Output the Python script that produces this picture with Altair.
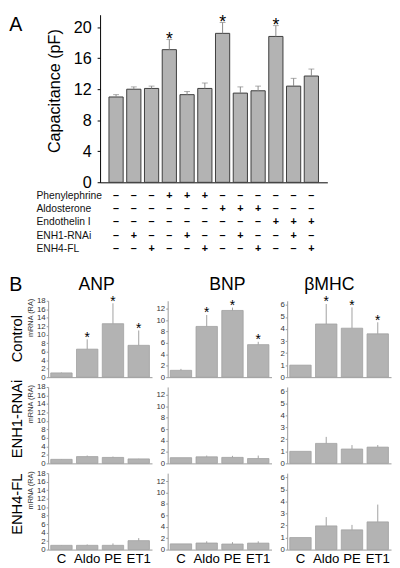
import altair as alt
import pandas as pd

# ---------------- Panel A data ----------------
conditions = ["1", "2", "3", "4", "5", "6", "7", "8", "9", "10", "11", "12"]
capacitance = [11.0, 12.0, 12.1, 17.1, 11.3, 12.1, 19.2, 11.5, 11.8, 18.8, 12.4, 13.7]
capacitance_err = [11.3, 12.3, 12.4, 18.4, 11.7, 12.8, 20.6, 12.3, 12.4, 20.2, 13.4, 14.6]
capacitance_sig = [0, 0, 0, 1, 0, 0, 1, 0, 0, 1, 0, 0]
capacitance_ticks = [0, 4, 8, 12, 16, 20]

treatment_names = ["Phenylephrine", "Aldosterone", "Endothelin I", "ENH1-RNAi", "ENH4-FL"]
phenylephrine = ["-", "-", "-", "+", "+", "+", "-", "-", "-", "-", "-", "-"]
aldosterone = ["-", "-", "-", "-", "-", "-", "+", "+", "+", "-", "-", "-"]
endothelin = ["-", "-", "-", "-", "-", "-", "-", "-", "-", "+", "+", "+"]
enh1_rnai = ["-", "+", "-", "-", "+", "-", "-", "+", "-", "-", "+", "-"]
enh4_fl = ["-", "-", "+", "-", "-", "+", "-", "-", "+", "-", "-", "+"]

# ---------------- Panel B data ----------------
treatments = ["C", "Aldo", "PE", "ET1"]
genes = ["ANP", "BNP", "βMHC"]
groups = ["Control", "ENH1-RNAi", "ENH4-FL"]

anp_control = [1.0, 6.6, 12.6, 7.5]
anp_control_err = [1.1, 8.9, 17.4, 11.0]
anp_enh1 = [0.95, 1.6, 1.4, 1.05]
anp_enh1_err = [1.0, 1.85, 1.6, 1.1]
anp_enh4 = [1.0, 1.0, 1.0, 2.1]
anp_enh4_err = [1.05, 1.2, 1.45, 2.7]

bnp_control = [1.2, 8.9, 11.7, 5.7]
bnp_control_err = [1.45, 10.9, 12.2, 6.2]
bnp_enh1 = [1.0, 1.15, 1.05, 0.85]
bnp_enh1_err = [1.0, 1.37, 1.32, 1.37]
bnp_enh4 = [1.0, 1.15, 0.97, 1.13]
bnp_enh4_err = [1.0, 1.45, 1.3, 1.45]

mhc_control = [1.0, 4.42, 4.07, 3.6]
mhc_control_err = [1.0, 6.08, 5.8, 4.56]
mhc_enh1 = [1.0, 1.66, 1.19, 1.35]
mhc_enh1_err = [1.0, 2.2, 1.52, 1.52]
mhc_enh4 = [1.0, 1.97, 1.64, 2.3]
mhc_enh4_err = [1.0, 2.7, 2.05, 3.74]

control_sig = [0, 1, 1, 1]
no_sig = [0, 0, 0, 0]

anp_ticks = [0, 2, 4, 6, 8, 10, 12, 14, 16, 18]
bnp_ticks = [0, 2, 4, 6, 8, 10, 12]
mhc_ticks = [0, 1, 2, 3, 4, 5, 6]

FONT = "Liberation Sans"
CELL_W = 106


def note(text, x, y, size, angle=0, baseline="middle", align="center"):
    return alt.Chart(pd.DataFrame({"label": [text]})).mark_text(
        fontSize=size, angle=angle, baseline=baseline, align=align, color="black"
    ).encode(x=alt.value(x), y=alt.value(y), text="label:N")


# ---------------- Panel A ----------------
dfA = pd.DataFrame({
    "cond": conditions,
    "cap": capacitance,
    "err": capacitance_err,
    "star": ["*" if s else "" for s in capacitance_sig],
})
XA = alt.Scale(type="band", domain=conditions, range=[53, 285], paddingInner=0.2, paddingOuter=0.5)
YA = alt.Scale(domain=[0, 21.6], range=[171.1, 0], nice=False, zero=True)
xaxisA = alt.Axis(title=None, labels=False, ticks=False, domainColor="black", grid=False, offset=-110.2)
yaxisA = alt.Axis(values=capacitance_ticks, title="Capacitance (pF)", titleFontSize=16.5,
                  titleFontWeight="normal", titleColor="black", titlePadding=11, titleY=77.5,
                  labelFontSize=16.5, labelColor="black", labelPadding=6, tickSize=3,
                  tickColor="black", domainColor="black", grid=False, offset=-53,
                  labelFlush=False, labelOverlap=False)
xA = alt.X("cond:N", scale=XA, axis=xaxisA, sort=conditions)
baseA = alt.Chart(dfA)
barsA = baseA.mark_bar(fill="#b3b3b3", stroke="#3c3c3c", strokeWidth=1).encode(
    x=xA, y=alt.Y("cap:Q", scale=YA, axis=yaxisA))
errA = baseA.mark_rule(color="#888888", strokeWidth=1).encode(
    x=xA, y=alt.Y("cap:Q", scale=YA, axis=yaxisA), y2="err:Q")
capA = baseA.mark_tick(color="#888888", thickness=1, size=6).encode(
    x=xA, y=alt.Y("err:Q", scale=YA, axis=yaxisA))
starA = baseA.mark_text(fontSize=18, dy=5.8, baseline="alphabetic", color="black").encode(
    x=xA, y=alt.Y("err:Q", scale=YA, axis=yaxisA), text="star:N")

sign_rows = [phenylephrine, aldosterone, endothelin, enh1_rnai, enh4_fl]
dfT = pd.DataFrame([
    {"cond": c, "row": name, "sign": "+" if s == "+" else "–"}
    for name, signs in zip(treatment_names, sign_rows)
    for c, s in zip(conditions, signs)
])
YT = alt.Scale(type="point", domain=treatment_names, range=[185, 239], padding=0)
tableA = alt.Chart(dfT).mark_text(fontSize=11, fontWeight="bold", color="black").encode(
    x=xA, y=alt.Y("row:N", scale=YT, axis=None), text="sign:N")
rowlabA = alt.Chart(pd.DataFrame({"row": treatment_names})).mark_text(
    fontSize=10.5, align="left", color="#111111").encode(
    x=alt.value(-12), y=alt.Y("row:N", scale=YT, axis=None), text="row:N")

panelA = alt.layer(
    alt.layer(barsA, errA, capA, starA),
    tableA, rowlabA,
    note("A", -33, 11, 20),
).resolve_scale(y="independent").properties(width=CELL_W, height=281.3)


def blank(h):
    return alt.Chart(pd.DataFrame({"t": [""]})).mark_text().encode(
        x=alt.value(50), y=alt.value(100), text="t:N").properties(width=CELL_W, height=h)


# ---------------- Panel B ----------------
XB = alt.Scale(type="band", domain=treatments, paddingInner=0.17, paddingOuter=0.1)


def b_panel(vals, errs, sig, ydomain, yticks, first_col, bottom_row, extras):
    df = pd.DataFrame({"t": treatments, "v": vals, "e": errs,
                       "s": ["*" if s else "" for s in sig]})
    xaxis = alt.Axis(title=None, labels=bottom_row, ticks=False, domainColor="#9a9a9a",
                     labelFontSize=13.5, labelColor="black", labelPadding=2, labelAngle=0,
                     grid=False)
    x = alt.X("t:N", scale=XB, axis=xaxis, sort=treatments)
    ys = alt.Scale(domain=ydomain, nice=False, zero=True)
    yaxis = alt.Axis(values=yticks, title="mRNA (RA)" if first_col else None,
                     titleFontSize=7.5, titleFontWeight="normal", titleColor="#333333",
                     titlePadding=2, titleY=17, labelFontSize=8, labelColor="#333333",
                     labelPadding=1, tickSize=2, tickColor="#9a9a9a", domainColor="#9a9a9a",
                     grid=False, labelOverlap=False, labelFlush=False)
    base = alt.Chart(df)
    bars = base.mark_bar(fill="#b3b3b3", stroke="#a0a0a0", strokeWidth=0.8).encode(
        x=x, y=alt.Y("v:Q", scale=ys, axis=yaxis))
    err = base.mark_rule(color="#a0a0a0", strokeWidth=1).encode(
        x=x, y=alt.Y("v:Q", scale=ys, axis=yaxis), y2="e:Q")
    star = base.mark_text(fontSize=14, dy=2.3, baseline="alphabetic", color="black").encode(
        x=x, y=alt.Y("e:Q", scale=ys, axis=yaxis), text="s:N")
    return alt.layer(bars, err, star, *extras).properties(width=CELL_W, height=78)


panels = [
    b_panel(anp_control, anp_control_err, control_sig, [0, 18], anp_ticks, True, False,
            [note("ANP", 49.5, -10.8, 18, baseline="alphabetic"),
             note("B", -33, -16, 20),
             note("Control", -32, 38.7, 15, angle=270)]),
    b_panel(bnp_control, bnp_control_err, control_sig, [0, 13.4], bnp_ticks, False, False,
            [note("BNP", 61, -10.8, 18, baseline="alphabetic")]),
    b_panel(mhc_control, mhc_control_err, control_sig, [0, 6.35], mhc_ticks, False, False,
            [note("βMHC", 43, -10.8, 18, baseline="alphabetic")]),
    b_panel(anp_enh1, anp_enh1_err, no_sig, [0, 18], anp_ticks, True, False,
            [note("ENH1-RNAi", -32, 32.7, 15, angle=270)]),
    b_panel(bnp_enh1, bnp_enh1_err, no_sig, [0, 13.4], bnp_ticks, False, False, []),
    b_panel(mhc_enh1, mhc_enh1_err, no_sig, [0, 6.35], mhc_ticks, False, False, []),
    b_panel(anp_enh4, anp_enh4_err, no_sig, [0, 18], anp_ticks, True, True,
            [note("ENH4-FL", -32, 31.7, 15, angle=270)]),
    b_panel(bnp_enh4, bnp_enh4_err, no_sig, [0, 13.4], bnp_ticks, False, True, []),
    b_panel(mhc_enh4, mhc_enh4_err, no_sig, [0, 6.35], mhc_ticks, False, True, []),
]

chart = alt.concat(
    panelA, blank(281.3), blank(281.3), *panels,
    columns=3, spacing={"row": 10, "column": 16}, bounds="flush", padding=0,
).configure(font=FONT).configure_view(stroke="transparent")

chart.save("out.html", embed_options={"renderer": "svg", "actions": False})
